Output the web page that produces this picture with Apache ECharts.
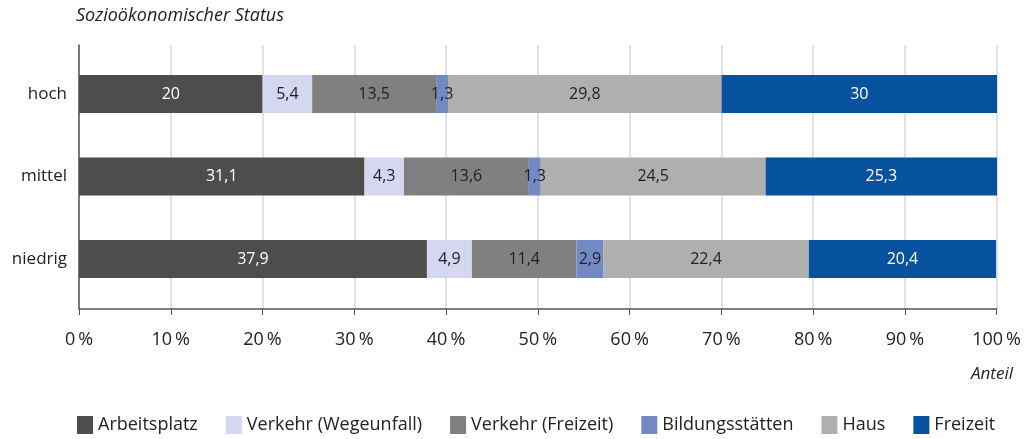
<!DOCTYPE html>
<html><head><meta charset="utf-8">
<script src="https://cdn.jsdelivr.net/npm/echarts@6/dist/echarts.min.js"></script>
<style>html,body{margin:0;padding:0;background:#fff}#c{width:1024px;height:439px}</style>
</head><body><div id="c"></div>
<script>
var categories = ['hoch', 'mittel', 'niedrig'];
var seriesNames = ['Arbeitsplatz', 'Verkehr (Wegeunfall)', 'Verkehr (Freizeit)', 'Bildungsstätten', 'Haus', 'Freizeit'];
var arbeitsplatz = [20, 31.1, 37.9];
var verkehrWege = [5.4, 4.3, 4.9];
var verkehrFreizeit = [13.5, 13.6, 11.4];
var bildung = [1.3, 1.3, 2.9];
var haus = [29.8, 24.5, 22.4];
var freizeit = [30, 25.3, 20.4];
var tickValues = [0, 10, 20, 30, 40, 50, 60, 70, 80, 90, 100];

var colors = ['#4d4d4b', '#d3d7ef', '#808080', '#7389c4', '#afb0ae', '#07529e'];
var labelColors = ['#ffffff', '#222222', '#222222', '#222222', '#222222', '#ffffff'];
var allData = [arbeitsplatz, verkehrWege, verkehrFreizeit, bildung, haus, freizeit];
var FONT = 'Open Sans';

var chart = echarts.init(document.getElementById('c'));
var series = seriesNames.map(function (n, i) {
  return {
    name: n, type: 'bar', stack: 'all', xAxisIndex: 1, yAxisIndex: 1,
    barWidth: 38, data: allData[i],
    itemStyle: { color: colors[i] },
    label: { show: true, position: 'inside', color: labelColors[i], fontFamily: FONT, fontSize: 16,
      formatter: function (p) { return String(p.value).replace('.', ','); } }
  };
});
chart.setOption({
  animation: false,
  color: colors,
  title: [
    { text: 'Sozioökonomischer Status', left: 71, top: 2, textStyle: { fontFamily: FONT, fontStyle: 'italic', fontWeight: 'normal', fontSize: 18, color: '#222' } },
    { text: 'Anteil', right: 6, top: 361, textStyle: { fontFamily: FONT, fontStyle: 'italic', fontWeight: 'normal', fontSize: 17, color: '#222' } }
  ],
  legend: {
    data: seriesNames, left: 72, top: 411, itemWidth: 16, itemHeight: 18, itemGap: 28,
    icon: 'rect', textStyle: { fontFamily: FONT, fontSize: 18, color: '#222' }
  },
  grid: [
    { left: 79, right: 27, top: 45, height: 264 },
    { left: 79, right: 27, top: 52.75, height: 247.5 }
  ],
  xAxis: [
    { type: 'value', gridIndex: 0, min: 0, max: 100, interval: 10,
      axisLine: { show: true, lineStyle: { color: '#555', width: 1.5 } },
      axisTick: { show: true, length: 6, lineStyle: { color: '#555' } },
      splitLine: { show: true, lineStyle: { color: '#d3d6f0', width: 1.5 } },
      axisLabel: { margin: 22, fontFamily: FONT, fontSize: 18, color: '#222',
        formatter: function (v) { return tickValues.indexOf(v) >= 0 ? v + '\u2009%' : ''; } } },
    { type: 'value', gridIndex: 1, min: 0, max: 100, show: false }
  ],
  yAxis: [
    { type: 'value', gridIndex: 0, min: 0, max: 1,
      axisLine: { show: true, lineStyle: { color: '#555', width: 1.5 } },
      axisTick: { show: false }, axisLabel: { show: false }, splitLine: { show: false } },
    { type: 'category', gridIndex: 1, data: categories, inverse: true,
      axisLine: { show: false }, axisTick: { show: false },
      axisLabel: { margin: 12, fontFamily: FONT, fontSize: 17, color: '#222' } }
  ],
  series: series
});
</script></body></html>
